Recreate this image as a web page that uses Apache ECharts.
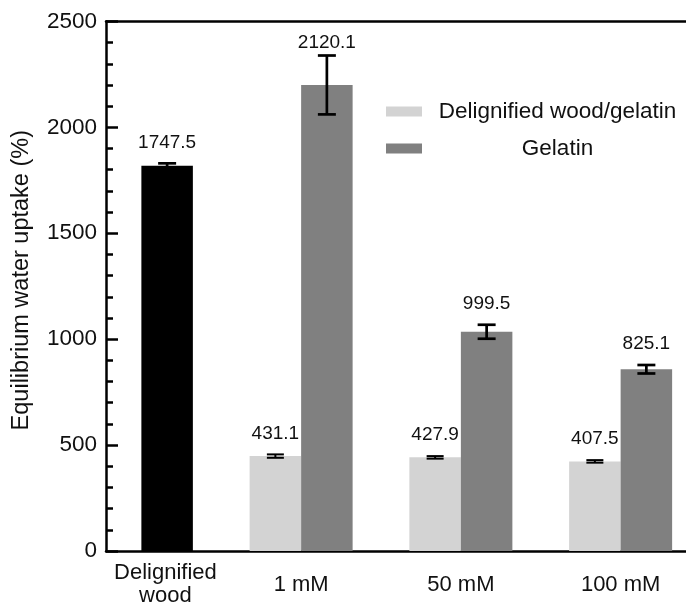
<!DOCTYPE html>
<html>
<head>
<meta charset="utf-8">
<script src="https://cdn.jsdelivr.net/npm/echarts@6/dist/echarts.min.js"></script>
<style>
html,body{margin:0;padding:0;background:#fff;}
#chart{width:686px;height:604px;}
</style>
</head>
<body>
<div id="chart"></div>
<script>
// ---- data ----
const categories = ['Delignified\nwood', '1 mM', '50 mM', '100 mM'];
const seriesNames = ['Delignified wood/gelatin', 'Gelatin'];
const woodValues = [1818, '-', '-', '-'];
const woodErrors = [12, 0, 0, 0];
const woodLabels = ['1747.5', '', '', ''];
const dwGelatinValues = ['-', 448, 442, 423];
const dwGelatinErrors = [0, 8, 6, 6];
const dwGelatinLabels = ['', '431.1', '427.9', '407.5'];
const gelatinValues = ['-', 2200, 1035, 858];
const gelatinErrors = [0, 139, 33, 20];
const gelatinLabels = ['', '2120.1', '999.5', '825.1'];
const yTicks = [0, 500, 1000, 1500, 2000, 2500];

const FONT = "'Liberation Sans', Arial, Helvetica, sans-serif";
const GRID_TOP = 21.4, GRID_H = 529.6;
const BAR_W = 51.5;

function errData(values, errors, labels) {
  const out = [];
  values.forEach((v, i) => {
    if (v !== '-' && v != null) out.push({ value: [i, v, errors[i]], label: labels[i] });
  });
  return out;
}

function makeRender(items, offset, half, lw) {
  return function (params, api) {
    const i = api.value(0), v = api.value(1), e = api.value(2);
    const top = api.coord([i, v + e]);
    const bot = api.coord([i, v - e]);
    const x = top[0] + offset;
    const st = { stroke: '#000', lineWidth: lw };
    const labelY = Math.max(top[1] - 21, GRID_TOP + 21.6);
    return {
      type: 'group',
      children: [
        { type: 'line', shape: { x1: x, y1: top[1], x2: x, y2: bot[1] }, style: st },
        { type: 'line', shape: { x1: x - half, y1: top[1], x2: x + half, y2: top[1] }, style: st },
        { type: 'line', shape: { x1: x - half, y1: bot[1], x2: x + half, y2: bot[1] }, style: st },
        { type: 'text', x: x, y: labelY,
          style: { text: items[params.dataIndex].label, fill: '#111', font: '19px ' + FONT,
                   align: 'center', verticalAlign: 'middle' } }
      ]
    };
  };
}

const woodErr = errData(woodValues, woodErrors, woodLabels);
const dwgErr = errData(dwGelatinValues, dwGelatinErrors, dwGelatinLabels);
const gelErr = errData(gelatinValues, gelatinErrors, gelatinLabels);

const chart = echarts.init(document.getElementById('chart'), null, { renderer: 'canvas' });
const option = {
  animation: false,
  backgroundColor: '#fff',
  textStyle: { fontFamily: FONT },
  grid: [
    { left: 106, right: 0, top: GRID_TOP, height: GRID_H, outerBoundsMode: 'none', containLabel: false },
    { left: 61.5, right: -14.5, top: GRID_TOP, height: GRID_H, outerBoundsMode: 'none', containLabel: false }
  ],
  legend: {
    data: seriesNames,
    orient: 'vertical',
    left: 381, top: 95,
    itemWidth: 36, itemHeight: 10, itemGap: 14,
    icon: 'rect',
    formatter: n => '{a|' + n + '}',
    textStyle: {
      fontFamily: FONT, fontSize: 22.5, color: '#111',
      rich: { a: { width: 261, align: 'center', fontSize: 22.5, lineHeight: 24, fontFamily: FONT, color: '#111' } }
    }
  },
  xAxis: [
    { type: 'value', gridIndex: 0, position: 'bottom', min: 0, max: 1,
      axisLine: { show: true, lineStyle: { color: '#000', width: 2.5 } },
      axisTick: { show: false }, axisLabel: { show: false }, splitLine: { show: false } },
    { type: 'value', gridIndex: 0, position: 'top', min: 0, max: 1,
      axisLine: { show: true, lineStyle: { color: '#000', width: 2.5 } },
      axisTick: { show: false }, axisLabel: { show: false }, splitLine: { show: false } },
    { type: 'category', gridIndex: 1, data: categories,
      axisLine: { show: false }, axisTick: { show: false },
      axisLabel: {
        color: '#111', fontSize: 22, fontFamily: FONT, lineHeight: 23,
        verticalAlign: 'middle', margin: 33.5, interval: 0, hideOverlap: false,
        formatter: (v, idx) => idx === 0 ? '{w|' + v + '}' : v,
        rich: { w: { fontSize: 22, lineHeight: 23, fontFamily: FONT, color: '#111', padding: [0, 0, 0, 48] } }
      } }
  ],
  yAxis: [
    { type: 'value', gridIndex: 0, min: yTicks[0], max: yTicks[yTicks.length - 1], interval: 500,
      name: 'Equilibrium water uptake (%)', nameLocation: 'middle', nameGap: 72,
      nameTextStyle: { fontSize: 23.5, color: '#111', fontFamily: FONT, padding: [0, 0, 0, 12] },
      axisLine: { show: true, lineStyle: { color: '#000', width: 2.5 } },
      axisTick: { show: true, inside: true, length: 12, lineStyle: { color: '#000', width: 2.5 } },
      minorTick: { show: true, splitNumber: 5, length: 7, lineStyle: { color: '#000', width: 2.5 } },
      axisLabel: { color: '#111', fontSize: 22.5, fontFamily: FONT, margin: 9, formatter: v => String(v) },
      splitLine: { show: false } },
    { type: 'value', gridIndex: 1, min: 0, max: 2500, show: false, splitLine: { show: false } }
  ],
  series: [
    { name: seriesNames[0], type: 'bar', xAxisIndex: 2, yAxisIndex: 1, stack: 'a',
      data: dwGelatinValues, barWidth: BAR_W, barGap: '0%',
      itemStyle: { color: '#d3d3d3' } },
    { name: seriesNames[1], type: 'bar', xAxisIndex: 2, yAxisIndex: 1, stack: 'b',
      data: gelatinValues, barWidth: BAR_W, barGap: '0%',
      itemStyle: { color: '#808080' } },
    { name: 'Delignified wood', type: 'bar', xAxisIndex: 2, yAxisIndex: 1, stack: 'b',
      data: woodValues, barWidth: BAR_W, barGap: '0%',
      itemStyle: { color: '#000' } },
    { type: 'custom', xAxisIndex: 2, yAxisIndex: 1, clip: false, z: 5,
      renderItem: makeRender(dwgErr, -BAR_W / 2, 8.5, 2), data: dwgErr },
    { type: 'custom', xAxisIndex: 2, yAxisIndex: 1, clip: false, z: 5,
      renderItem: makeRender(gelErr, BAR_W / 2, 9, 2.7), data: gelErr },
    { type: 'custom', xAxisIndex: 2, yAxisIndex: 1, clip: false, z: 5,
      renderItem: makeRender(woodErr, BAR_W / 2, 9, 2.7), data: woodErr }
  ]
};
chart.setOption(option);
</script>
</body>
</html>
